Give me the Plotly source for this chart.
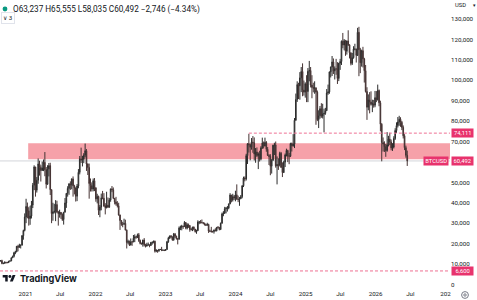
import pandas as pd
import plotly.graph_objects as go

# ---------------- data (USD thousands, weekly candles) ----------------
first_open = 11.85
close_k = [
    # 2020
    11.65, 11.68, 10.28, 10.33, 10.92, 10.77, 10.67, 11.38, 11.50, 13.03, 13.78,
    15.48, 15.96, 18.68, 18.18, 19.15, 19.25, 23.86, 26.44, 33.00,
    # 2021
    38.20, 36.07, 32.26, 33.51,
    38.90, 48.60, 57.54, 46.19,
    51.00, 59.00, 57.30, 55.80, 57.00,
    59.80, 56.20, 49.10, 56.60,
    58.20, 46.40, 34.70, 35.60, 35.80,
    39.10, 35.50, 34.70, 35.30,
    34.20, 31.80, 35.40, 39.90,
    44.60, 47.00, 49.30, 48.80, 51.70,
    48.30, 47.30, 43.20, 48.20,
    54.90, 61.50, 60.90, 61.30,
    63.30, 65.50, 59.00, 57.30, 49.40,
    48.40, 46.70, 50.80, 47.30,
    # 2022
    41.90, 43.10, 36.30, 37.90, 42.40,
    42.20, 38.40, 37.70, 38.80,
    37.80, 41.30, 46.80, 46.40,
    42.20, 40.40, 39.50, 38.50,
    34.00, 31.30, 29.40, 29.40, 29.90,
    26.60, 20.55, 21.00, 19.30,
    20.85, 20.80, 22.60, 23.30,
    23.20, 24.30, 21.50, 20.05, 19.80,
    21.80, 19.40, 18.80, 19.30,
    19.40, 19.07, 20.60, 20.60, 21.15,
    16.30, 16.70, 16.45, 17.10,
    17.10, 16.75, 16.84, 16.62,
    # 2023
    17.10, 20.88, 22.70, 23.75, 23.32,
    21.80, 24.63, 23.55, 22.40,
    22.15, 27.60, 27.95, 28.45,
    28.35, 30.30, 27.60, 29.25,
    28.85, 26.92, 26.87, 28.10, 27.10,
    25.84, 26.35, 30.55, 30.60,
    30.30, 30.25, 30.00, 29.20, 29.05,
    29.40, 26.10, 26.00, 25.85,
    25.85, 26.60, 26.25, 27.95,
    27.90, 26.85, 29.95, 34.50, 35.00,
    37.05, 37.40, 37.45, 39.45,
    43.80, 41.40, 43.00, 42.30,
    # 2024
    43.90, 41.75, 41.60, 42.00, 43.00,
    48.30, 52.10, 51.70, 63.10,
    68.90, 68.40, 67.20, 69.70,
    69.40, 63.90, 64.90, 63.10, 63.90,
    61.50, 66.90, 69.30, 67.80,
    69.60, 66.20, 63.20, 62.70,
    57.90, 60.80, 68.20, 68.30, 58.10,
    58.70, 58.40, 64.20, 57.30,
    54.80, 59.90, 63.40, 65.60, 62.80,
    62.80, 69.00, 67.90, 68.70,
    80.40, 90.60, 97.90, 97.30,
    101.20, 104.30, 95.20, 94.20, 98.30,
    # 2025
    94.50, 104.40, 104.80, 97.70,
    96.50, 96.10, 96.30, 94.20,
    80.70, 82.60, 86.10, 82.40, 83.50,
    83.80, 85.10, 93.80, 94.30,
    104.10, 106.50, 109.00, 104.60,
    105.70, 105.50, 100.90, 108.40, 109.20,
    119.10, 117.30, 119.40, 114.20,
    119.30, 117.40, 113.50, 108.30,
    111.10, 115.30, 115.30, 112.20, 123.50,
    115.00, 108.60, 114.50, 110.50,
    104.70, 94.50, 86.80, 90.40,
    89.40, 88.20, 88.50, 87.80, 91.50,
    # 2026
    90.50, 95.00, 89.00, 78.50,
    69.50, 68.80, 67.50, 65.60,
    68.40, 71.20, 69.80, 66.90, 67.30,
    71.50, 75.40, 77.80, 79.60,
    80.90, 79.40, 76.90, 72.80,
    67.00, 63.237, 60.492,
]
high_k = [
    # 2020
    12.47, 11.80, 12.09, 10.58, 11.18, 10.95, 10.95, 11.49, 11.72, 13.22, 14.09,
    15.97, 16.48, 18.80, 19.42, 19.92, 19.45, 24.20, 26.80, 34.80,
    # 2021
    41.95, 40.10, 37.80, 38.50,
    40.90, 49.70, 58.35, 57.50,
    52.60, 61.70, 60.60, 58.40, 60.20,
    61.20, 64.85, 57.50, 58.40,
    59.50, 59.60, 46.60, 40.00, 39.50,
    41.30, 41.00, 36.00, 36.60,
    35.10, 34.80, 35.40, 42.30,
    44.70, 48.10, 49.50, 50.50, 51.90,
    52.90, 48.80, 45.00, 49.20,
    56.50, 62.90, 67.00, 63.00,
    64.30, 69.00, 66.30, 59.30, 59.20,
    51.90, 50.00, 51.90, 52.10,
    # 2022
    47.60, 44.40, 43.50, 38.90, 44.50,
    45.80, 44.70, 39.80, 45.40,
    42.60, 42.30, 46.90, 48.20,
    47.50, 42.30, 42.90, 40.80,
    40.00, 34.20, 31.40, 30.60, 32.20,
    31.70, 26.90, 21.90, 21.50,
    22.50, 21.20, 24.20, 24.50,
    23.60, 24.90, 25.20, 22.00, 20.50,
    21.80, 22.70, 19.90, 20.40,
    20.50, 19.50, 20.70, 21.00, 21.45,
    21.45, 17.20, 16.80, 17.40,
    17.40, 18.40, 17.00, 16.98,
    # 2023
    17.20, 21.30, 23.30, 23.90, 24.20,
    23.40, 25.20, 25.20, 23.90,
    22.60, 28.40, 28.80, 29.20,
    28.80, 31.00, 30.50, 30.00,
    29.80, 29.00, 27.60, 28.20, 28.40,
    27.00, 26.80, 31.40, 31.00,
    31.50, 31.80, 30.40, 30.20, 29.70,
    30.20, 29.70, 26.80, 28.20,
    26.30, 26.90, 27.50, 28.00,
    28.60, 28.00, 30.30, 35.20, 35.90,
    38.00, 37.90, 38.40, 39.60,
    44.70, 43.50, 44.40, 43.80,
    # 2024
    45.90, 49.00, 43.50, 42.80, 43.80,
    48.60, 52.80, 52.90, 64.00,
    69.20, 73.80, 68.90, 71.70,
    72.70, 72.00, 66.80, 67.10, 64.70,
    65.50, 67.70, 71.90, 70.00,
    71.90, 70.20, 67.30, 63.80,
    63.80, 61.40, 68.40, 69.40, 70.00,
    62.70, 61.80, 65.00, 64.90,
    59.80, 60.60, 64.10, 66.50, 66.00,
    64.40, 69.40, 69.50, 73.60,
    81.50, 93.50, 99.50, 98.80,
    104.00, 106.50, 108.30, 99.90, 99.00,
    # 2025
    102.50, 106.00, 109.50, 106.50,
    102.50, 98.80, 99.50, 96.50,
    95.00, 85.30, 87.40, 88.80, 88.50,
    86.10, 86.50, 95.70, 97.90,
    104.30, 106.70, 111.90, 110.70,
    106.80, 110.50, 108.90, 108.50, 110.50,
    119.50, 123.20, 120.20, 119.80,
    119.40, 124.50, 117.60, 113.60,
    113.40, 116.70, 117.90, 115.50, 125.70,
    126.20, 115.90, 115.00, 116.40,
    111.00, 107.50, 96.60, 93.10,
    94.20, 94.60, 90.50, 90.40, 94.80,
    # 2026
    94.70, 97.90, 95.50, 90.00,
    79.00, 72.00, 70.10, 68.80,
    74.60, 72.80, 74.30, 71.00, 69.20,
    72.60, 76.50, 79.40, 82.00,
    82.60, 81.90, 80.10, 77.90,
    73.60, 68.00, 65.555,
]
low_k = [
    # 2020
    11.37, 11.13, 9.88, 9.88, 10.20, 10.14, 10.40, 10.53, 11.22, 11.40, 12.90,
    13.21, 14.80, 15.80, 16.20, 18.00, 17.60, 19.00, 21.90, 26.00,
    # 2021
    30.00, 32.40, 28.80, 29.20,
    32.30, 37.40, 46.20, 43.00,
    45.00, 49.30, 53.30, 50.40, 55.70,
    55.50, 53.00, 47.00, 48.80,
    52.90, 43.80, 30.00, 31.20, 34.80,
    31.00, 34.90, 28.80, 32.70,
    32.10, 31.10, 29.30, 35.20,
    37.50, 43.00, 43.90, 46.30, 46.60,
    43.00, 44.10, 40.60, 40.80,
    47.10, 53.90, 59.50, 57.80,
    59.40, 62.30, 55.60, 53.60, 42.00,
    45.50, 45.50, 45.60, 45.70,
    # 2022
    40.50, 39.70, 34.00, 32.90, 36.30,
    41.70, 38.00, 34.30, 37.20,
    37.60, 37.60, 40.50, 45.20,
    41.80, 39.20, 38.60, 37.70,
    33.70, 26.70, 28.70, 28.00, 29.30,
    26.50, 17.60, 19.70, 18.80,
    19.10, 18.90, 20.70, 20.70,
    22.40, 22.70, 20.80, 19.60, 19.60,
    18.50, 18.60, 18.10, 18.50,
    19.10, 18.20, 18.90, 19.50, 20.10,
    15.60, 15.80, 15.50, 16.00,
    16.90, 16.30, 16.40, 16.33,
    # 2023
    16.50, 17.00, 20.40, 22.30, 22.50,
    21.40, 21.40, 22.70, 21.97,
    19.60, 21.90, 26.60, 26.50,
    27.20, 28.20, 27.00, 26.94,
    27.70, 25.80, 26.40, 26.10, 26.50,
    25.40, 24.80, 26.20, 29.50,
    29.80, 29.90, 29.50, 28.90, 28.60,
    28.70, 25.20, 25.80, 25.40,
    25.40, 24.90, 26.10, 26.00,
    27.30, 26.50, 26.90, 29.80, 33.40,
    34.50, 34.80, 35.70, 36.80,
    39.30, 40.20, 40.60, 41.30,
    # 2024
    40.70, 41.50, 40.30, 38.50, 41.80,
    42.20, 47.70, 50.50, 50.90,
    59.00, 64.60, 60.80, 66.00,
    64.50, 60.70, 59.60, 62.40, 56.50,
    60.20, 60.80, 66.40, 66.60,
    67.60, 65.00, 62.90, 58.50,
    53.50, 54.30, 60.60, 63.40, 57.20,
    49.00, 56.10, 57.80, 57.20,
    52.60, 54.60, 57.50, 62.70, 59.90,
    58.90, 62.40, 65.10, 67.50,
    66.80, 80.20, 89.40, 90.80,
    90.50, 94.20, 92.20, 92.50, 91.50,
    # 2025
    89.30, 89.30, 99.50, 96.50,
    91.20, 94.10, 93.40, 78.20,
    80.00, 76.60, 81.20, 81.60, 81.30,
    74.50, 83.10, 85.00, 92.90,
    93.40, 101.40, 102.10, 103.10,
    100.40, 102.70, 98.20, 99.60, 105.10,
    107.50, 115.70, 114.70, 112.00,
    112.60, 116.80, 110.70, 107.30,
    107.50, 110.60, 114.70, 108.70, 111.90,
    102.00, 103.50, 106.70, 106.30,
    98.90, 94.00, 80.60, 85.30,
    83.80, 87.60, 84.40, 86.60, 86.80,
    # 2026
    89.30, 90.10, 87.30, 75.00,
    60.30, 65.10, 64.90, 62.50,
    65.00, 67.60, 68.20, 65.70, 65.40,
    66.60, 70.80, 74.20, 76.90,
    77.70, 77.20, 75.60, 71.50,
    65.80, 62.10, 58.035,
]
first_week = "2020-08-17"

zone_low, zone_high = 61300, 69100
zone_start = "2021-01-15"
level_high = 74111
level_high_start = "2024-03-11"
level_low = 6600
last_price = 60492
legend_text = "O63,237 H65,555 L58,035 C60,492 \u22122,746 (\u22124.34%)"

x_ticks = ["2021-01-01", "2021-07-01", "2022-01-01", "2022-07-01", "2023-01-01",
           "2023-07-01", "2024-01-01", "2024-07-01", "2025-01-01", "2025-07-01",
           "2026-01-01", "2026-07-01", "2027-01-01"]
x_ticktext = ["2021", "Jul", "2022", "Jul", "2023", "Jul", "2024", "Jul",
              "2025", "Jul", "2026", "Jul", "202"]
y_ticks = [0, 10000, 20000, 30000, 40000, 50000, 70000, 80000, 90000,
           100000, 110000, 120000, 130000]

# ---------------- build ----------------
n = len(close_k)
assert len(high_k) == n and len(low_k) == n, (n, len(high_k), len(low_k))
dates = pd.date_range(first_week, periods=n, freq="7D")
close = [v * 1000 for v in close_k]
high = [v * 1000 for v in high_k]
low = [v * 1000 for v in low_k]
opens = [first_open * 1000] + close[:-1]

W, H = 477, 300
PW, PH = 450, 289  # plot area size in px


def pxx(x):
    return x / PW


def pyy(y):
    return 1 - y / PH


fig = go.Figure()
fig.add_trace(go.Candlestick(
    x=dates, open=opens, high=high, low=low, close=close,
    increasing=dict(line=dict(color="#2c2c2c", width=1), fillcolor="#9a9a9a"),
    decreasing=dict(line=dict(color="#463434", width=1), fillcolor="#3a2b2b"),
    whiskerwidth=0, showlegend=False, hoverinfo="skip",
))

pink = "#e8336d"
shapes = [
    # last price line
    dict(type="line", xref="paper", x0=0, x1=1, yref="y", y0=last_price, y1=last_price,
         line=dict(color="#d3d5da", width=1), layer="below"),
    # zone
    dict(type="rect", xref="x", x0=zone_start, x1="2027-12-31", yref="y",
         y0=zone_low, y1=zone_high, fillcolor="#f6a1a9", line=dict(width=0), layer="below"),
    # dashed levels
    dict(type="line", xref="x", x0=level_high_start, x1="2027-12-31", yref="y",
         y0=level_high, y1=level_high, line=dict(color="#ee7093", width=1, dash="3px,2px")),
    dict(type="line", xref="paper", x0=0, x1=1, yref="y", y0=level_low, y1=level_low,
         line=dict(color="#ee7093", width=1, dash="3px,2px")),
    # status dot
    dict(type="circle", xref="paper", yref="paper", x0=pxx(2.6), x1=pxx(7.4),
         y0=pyy(11.4), y1=pyy(6.6), fillcolor="#089981", line=dict(width=0)),
    # settings icon
    dict(type="circle", xref="paper", yref="paper", x0=pxx(461.6), x1=pxx(468.4),
         y0=pyy(298.4), y1=pyy(291.6), line=dict(color="#787b86", width=1)),
    dict(type="circle", xref="paper", yref="paper", x0=pxx(463.8), x1=pxx(466.2),
         y0=pyy(296.2), y1=pyy(293.8), line=dict(color="#787b86", width=1)),
]

# TradingView logo
s, ox, oy = 0.36, 2.7, 273.6


def logo_path(pts):
    parts = []
    for i, (a, b) in enumerate(pts):
        parts.append(("M" if i == 0 else "L") + f"{pxx(ox + s * a):.5f},{pyy(oy + s * b):.5f}")
    return " ".join(parts) + " Z"


shapes.append(dict(type="path", xref="paper", yref="paper",
                   path=logo_path([(14, 22), (7, 22), (7, 11), (0, 11), (0, 4), (14, 4)]),
                   fillcolor="#131722", line=dict(width=0)))
shapes.append(dict(type="path", xref="paper", yref="paper",
                   path=logo_path([(28, 22), (20, 22), (27.5, 4), (35.5, 4)]),
                   fillcolor="#131722", line=dict(width=0)))
shapes.append(dict(type="circle", xref="paper", yref="paper",
                   x0=pxx(ox + s * 16), x1=pxx(ox + s * 24),
                   y0=pyy(oy + s * 12), y1=pyy(oy + s * 4),
                   fillcolor="#131722", line=dict(width=0)))

FONT = "Roboto, Arial, sans-serif"
annotations = [
    dict(text=legend_text, xref="paper", yref="paper", x=pxx(11), y=pyy(9),
         xanchor="left", yanchor="middle", showarrow=False,
         font=dict(size=8.2, color="#131722", family=FONT)),
    dict(text="\u2228 3", xref="paper", yref="paper", x=pxx(1.2), y=pyy(18.5),
         xanchor="left", yanchor="middle", showarrow=False,
         font=dict(size=6.2, color="#131722", family=FONT),
         bordercolor="#e0e3eb", borderwidth=1, borderpad=1.2, bgcolor="white"),
    dict(text="USD", xref="paper", yref="paper", x=pxx(453), y=pyy(5.5),
         xanchor="left", yanchor="middle", showarrow=False,
         font=dict(size=5.8, color="#131722", family=FONT)),
    dict(text="\u25be", xref="paper", yref="paper", x=pxx(474.5), y=pyy(5.5),
         xanchor="center", yanchor="middle", showarrow=False,
         font=dict(size=5, color="#131722", family=FONT)),
    dict(text="<b>TradingView</b>", xref="paper", yref="paper", x=pxx(17.5), y=pyy(278.5),
         xanchor="left", yanchor="middle", showarrow=False,
         font=dict(size=9.2, color="#131722", family="Inter, Roboto, sans-serif")),
]


def price_box(text, y, xpx, anchor="left", w=19):
    return dict(text=text, xref="paper", yref="y", x=pxx(xpx), y=y,
                xanchor=anchor, yanchor="middle", showarrow=False,
                font=dict(size=5.8, color="white", family=FONT),
                bgcolor=pink, borderpad=1.2, width=w)


annotations.append(price_box("74,111", level_high, 451))
annotations.append(price_box("60,492", last_price, 451))
annotations.append(price_box("BTCUSD", last_price, 449, "right", 22))
annotations.append(price_box("6,600", level_low, 451))

fig.update_layout(
    width=W, height=H,
    margin=dict(l=0, r=W - PW, t=0, b=H - PH, pad=0),
    paper_bgcolor="white", plot_bgcolor="white",
    shapes=shapes, annotations=annotations,
    showlegend=False,
    font=dict(family=FONT, color="#131722"),
    xaxis=dict(
        range=["2020-08-21", "2027-01-24"], rangeslider=dict(visible=False),
        showgrid=False, zeroline=False, showline=False, ticks="",
        tickvals=x_ticks, ticktext=x_ticktext,
        tickfont=dict(size=6.2, color="#131722"),
    ),
    yaxis=dict(
        range=[-2250, 139340], side="right",
        showgrid=False, zeroline=False, showline=False, ticks="",
        tickvals=y_ticks, tickformat=",",
        tickfont=dict(size=6.2, color="#131722"),
    ),
)

fig.write_html("out.html")
